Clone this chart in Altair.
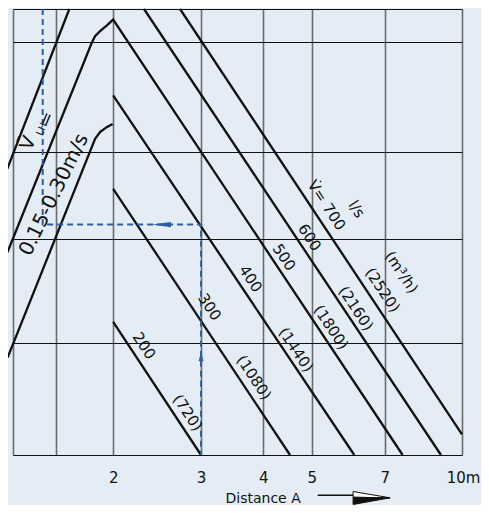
import altair as alt
import pandas as pd

BG = "#E4EDF5"
INK = "#111111"
GRIDV = "#6c6c6c"
BLUE = "#2c5ea4"
FONT = "DejaVu Sans"

# ---- axes (distance A in m, log scale; vertical scale is unlabeled, 0 = bottom, 449 = top)
x_domain = [1.26, 10]
y_domain = [0, 449]
x_grid = [1.26, 1.54, 2, 3, 4, 5, 7, 10]
y_grid = [0, 113, 217, 305, 416, 449]

# ---- black characteristic curves (distance, vertical value)
curve_d = {
    "A": [1.227, 1.634],
    "B": [1.228, 1.812, 1.840, 1.883, 1.941, 2.0, 7.605],
    "C": [1.229, 1.840, 1.883, 1.941, 1.995],
    "D": [2.0, 6.084],
    "E": [2.0, 4.523],
    "F": [2.0, 3.0],
    "G": [2.306, 9.076],
    "H": [2.723, 10.0],
}
curve_y = {
    "A": [288, 449],
    "B": [204, 415, 421.7, 426.7, 432.3, 438.3, 0],
    "C": [98, 318.3, 325, 330, 333.3],
    "D": [362, 0],
    "E": [268, 0],
    "F": [134, 0],
    "G": [449, 0],
    "H": [449, 20.7],
}

# ---- blue dashed reading example
path_d = [1.445, 1.445, 3.0, 3.0]
path_y = [449, 232, 232, 0]

# ---- rotated labels
label_text = ["V\u0307= 700", "l/s", "600", "500", "400", "300", "200",
              "(m\u00b3/h)", "(2520)", "(2160)", "(1800)", "(1440)", "(1080)", "(720)",
              "0.15-0.30m/s", "V\u0304", "LH", "="]
label_d = [5.353, 6.146, 4.947, 4.399, 3.769, 3.119, 2.306,
           7.563, 6.931, 6.132, 5.465, 4.650, 3.830, 2.818,
           1.522, 1.350, 1.440, 1.471]
label_y = [251.5, 247.5, 219, 199, 177.5, 149, 110,
           184, 166, 147.5, 128.5, 106, 78, 42.5,
           262, 314, 328, 338]
label_angle = [56.6] * 14 + [296, 293, 293, 293]
label_size = [15] * 14 + [20, 19, 10, 17]

rows = []
for k in curve_d:
    for i, (d, y) in enumerate(zip(curve_d[k], curve_y[k])):
        rows.append({"curve": k, "i": i, "d": d, "y": y})
curves = pd.DataFrame(rows)
path = pd.DataFrame({"i": range(len(path_d)), "d": path_d, "y": path_y})
labels = pd.DataFrame({"t": label_text, "d": label_d, "y": label_y,
                       "ang": label_angle, "fs": label_size})

xenc = alt.X(
    "d:Q",
    scale=alt.Scale(type="log", domain=x_domain, nice=False),
    axis=alt.Axis(
        values=x_grid, title="Distance A", grid=True, gridColor=GRIDV, gridWidth=1.6,
        domain=False, ticks=False, labelPadding=15, labelFont=FONT, labelFontSize=15,
        labelColor=INK, labelFlush=False, labelOverlap=False,
        labelExpr="datum.value >= 9.9 ? '10m' : (datum.value >= 1.9 ? format(datum.value, 'd') : '')",
        labelOffset={"condition": {"test": "datum.value >= 9.9", "value": 1}, "value": 0},
        titleFont=FONT, titleFontSize=14, titleFontWeight="normal", titleColor=INK,
        titleX=212, titleY=47, titleAlign="left", titleBaseline="alphabetic",
    ),
)
yenc = alt.Y(
    "y:Q",
    scale=alt.Scale(domain=y_domain, nice=False, zero=False),
    axis=alt.Axis(values=y_grid, labels=False, ticks=False, domain=False, title=None,
                  grid=True, gridColor=INK, gridWidth=1),
)

lines = alt.Chart(curves).mark_line(color=INK, strokeWidth=2.3, clip=False).encode(
    x=xenc, y=yenc, detail="curve:N", order="i:Q")

dashed = alt.Chart(path).mark_line(color=BLUE, strokeWidth=2, strokeDash=[6, 4]).encode(
    x=xenc, y=yenc, order="i:Q")

arrow_left = alt.Chart(pd.DataFrame({"d": [2.5], "y": [232]})).mark_point(
    shape="M-1,0L1,-0.28L1,0.28Z", size=361, filled=True, color=BLUE, opacity=1).encode(x=xenc, y=yenc)
arrow_up = alt.Chart(pd.DataFrame({"d": [3.0], "y": [99]})).mark_point(
    shape="M0,-1L0.55,1L-0.55,1Z", size=81, filled=True, color=BLUE, opacity=1).encode(x=xenc, y=yenc)

text = alt.Chart(labels).mark_text(font=FONT, color=INK, align="center", baseline="middle").encode(
    x=xenc, y=yenc, text="t:N",
    angle=alt.Angle("ang:Q", scale=None), size=alt.Size("fs:Q", scale=None))

# arrow next to the axis title
title_arrow = pd.DataFrame({"d": [5.139], "d2": [6.05], "y": [-40.5]})
shaft = alt.Chart(title_arrow).mark_rule(color=INK, strokeWidth=1.3, clip=False).encode(
    x=xenc, x2="d2:Q", y=yenc)
head_pos = pd.DataFrame({"d": [6.59], "y": [-40.5]})
head_top = alt.Chart(head_pos).mark_point(
    shape="M-1,-0.2L1,0.14L-1,0.11Z", size=1369, filled=True, color="white",
    stroke=INK, strokeWidth=1, opacity=1).encode(x=xenc, y=yenc)
head_bot = alt.Chart(head_pos).mark_point(
    shape="M-1,0.11L1,0.14L-1,0.5Z", size=1369, filled=True, color=INK,
    stroke=INK, strokeWidth=1, opacity=1).encode(x=xenc, y=yenc)

chart = alt.layer(lines, dashed, arrow_left, arrow_up, text, shaft, head_top, head_bot).properties(
    width=449, height=446,
    autosize=alt.AutoSizeParams(type="none"),
    padding={"left": 5, "top": 1, "right": 19, "bottom": 50},
    background=BG,
).configure_view(stroke=None)

chart.save("out.html", embed_options={"renderer": "svg", "actions": False})
